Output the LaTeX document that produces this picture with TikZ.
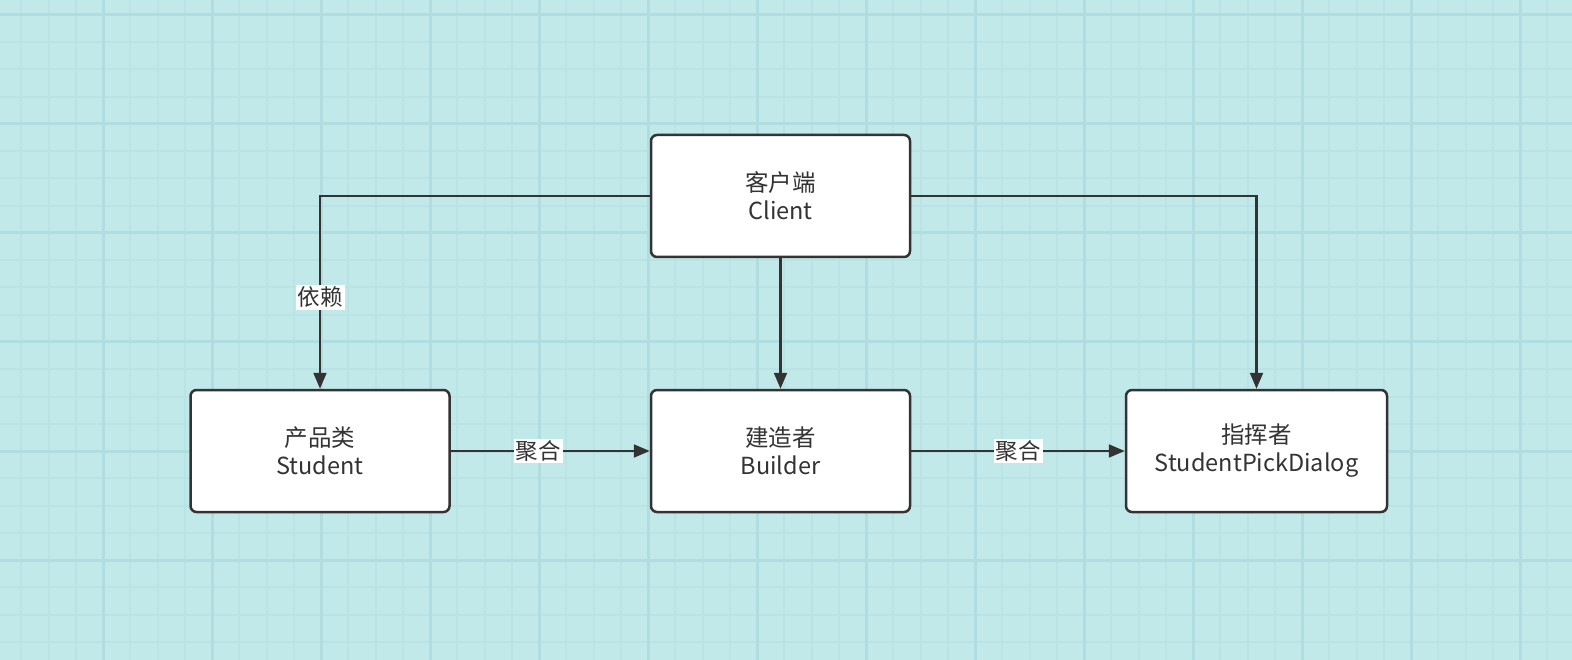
\documentclass[tikz,border=0pt]{standalone}
\usepackage{fontspec}
\setmainfont{Noto Sans CJK SC}
\usetikzlibrary{arrows.meta}
\definecolor{bgc}{RGB}{194,233,233}
\definecolor{gminor}{RGB}{186,227,229}
\definecolor{gmajor}{RGB}{178,221,224}
\definecolor{ink}{RGB}{51,51,51}
\tikzset{
  box/.style={draw=ink, line width=2.5pt, fill=white, rounded corners=6pt,
    minimum width=259pt, minimum height=122pt, align=center, text=ink,
    font=\fontsize{23.5}{28}\selectfont, inner sep=0pt},
  conn/.style={draw=ink, line width=2.2pt, -{Triangle[length=16pt,width=13pt]}},
  lbl/.style={fill=white, text=ink, font=\fontsize{22.5}{24}\selectfont, inner sep=2pt}
}
\begin{document}
\begin{tikzpicture}[x=1pt,y=-1pt]
\useasboundingbox (0,0) rectangle (1572,660);
\fill[bgc] (0,0) rectangle (1572,660);
% minor grid
\foreach \i in {0,...,60} {
  \pgfmathsetmacro{\xx}{-6+27.25*\i}
  \draw[gminor, line width=2pt] (\xx,0) -- (\xx,660);
}
\foreach \i in {0,...,28} {
  \pgfmathsetmacro{\yy}{-94+27.25*\i}
  \draw[gminor, line width=2pt] (0,\yy) -- (1572,\yy);
}
% major grid
\foreach \i in {0,...,15} {
  \pgfmathsetmacro{\xx}{-6+109*\i}
  \draw[gmajor, line width=3pt] (\xx,0) -- (\xx,660);
}
\foreach \i in {0,...,7} {
  \pgfmathsetmacro{\yy}{-94+109*\i}
  \draw[gmajor, line width=3pt] (0,\yy) -- (1572,\yy);
}
% nodes
\node[box] (client) at (780.5,196) {客户端\\Client};
\node[box] (student) at (320,451) {产品类\\Student};
\node[box] (builder) at (780.5,451) {建造者\\Builder};
\node[box, minimum width=261pt] (director) at (1256.5,451) {指挥者\\StudentPickDialog};
% connectors
\draw[conn] (client.west) -| (student.north) node[lbl, pos=0.763] {依赖};
\draw[conn] (client.south) -- (builder.north);
\draw[conn] (client.east) -| (director.north);
\draw[conn] (student.east) -- (builder.west) node[lbl, pos=0.44] {聚合};
\draw[conn] (builder.east) -- (director.west) node[lbl, pos=0.5] {聚合};
\end{tikzpicture}
\end{document}
